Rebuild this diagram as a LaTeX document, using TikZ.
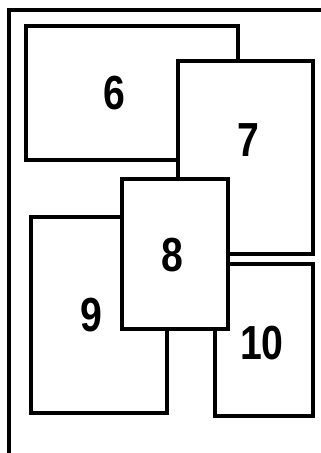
\documentclass[tikz,border=0pt]{standalone}
\usepackage{fontspec}
\setmainfont{Liberation Sans}
\usetikzlibrary{positioning}

\tikzset{
  panel/.style={draw, line width=0.1cm, fill=white},
  num/.style={font=\fontsize{34}{38}\selectfont\bfseries, inner sep=0pt, xscale=0.82}
}

\begin{document}
\begin{tikzpicture}[x=0.025cm, y=-0.025cm]
  \useasboundingbox (0,0) rectangle (321,453);

  % outer frame, only left and top edges show
  \draw[line width=0.1cm] (9,453) -- (9,10) -- (321,10);

  % panels, back to front
  \draw[panel] (26,26) rectangle (238,160);
  \node[num] (n6) at (114,93) {6};

  \draw[panel] (178,61) rectangle (313,254);
  \node[num] (n7) at (248,140) {7};

  \draw[panel] (31,217) rectangle (167,413);
  \node[num] (n9) at (91,315) {9};

  \draw[panel] (215,264) rectangle (313,416);
  \node[num] (n10) at (262,343) {10};

  \draw[panel] (122,179) rectangle (228,329);
  \node[num] (n8) at (172,255) {8};
\end{tikzpicture}
\end{document}
